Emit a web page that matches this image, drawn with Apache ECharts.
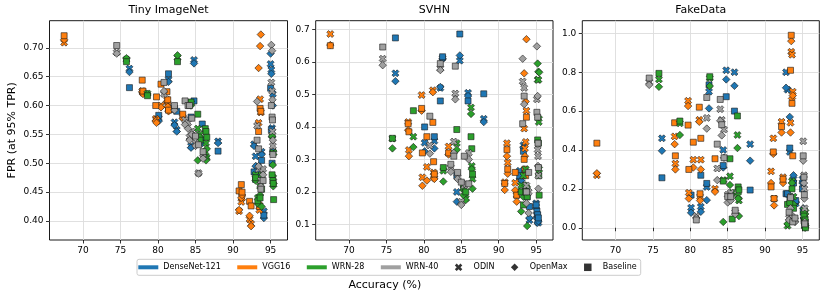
<!DOCTYPE html>
<html><head><meta charset="utf-8">
<script src="https://cdn.jsdelivr.net/npm/echarts@6/dist/echarts.min.js"></script>
<style>html,body{margin:0;padding:0;background:#fff}#c{width:830px;height:299px}</style>
</head><body><div id="c"></div>
<script>
// ---------- data ----------
const MODELS = ['DenseNet-121', 'VGG16', 'WRN-28', 'WRN-40'];
const METHODS = ['ODIN', 'OpenMax', 'Baseline'];
const PANEL_TITLES = ['Tiny ImageNet', 'SVHN', 'FakeData'];
const X_TICKS = [70, 75, 80, 85, 90, 95];
const Y_TICKS_TIN = [0.40, 0.45, 0.50, 0.55, 0.60, 0.65, 0.70];
const Y_TICKS_SVHN = [0.1, 0.2, 0.3, 0.4, 0.5, 0.6, 0.7];
const Y_TICKS_FAKE = [0.0, 0.2, 0.4, 0.6, 0.8, 1.0];

// accuracy (%) of each trained configuration, per model
const ACC_DN = [76.2, 80.1, 81.4, 82.2, 82.5, 84.4, 84.8, 85.9, 88.0, 92.8, 93.0, 93.3, 93.8, 94.1, 95.0, 95.1, 95.2, 95.3];
const ACC_VGG = [67.5, 77.9, 78.0, 79.7, 79.8, 80.4, 81.2, 81.3, 81.4, 83.3, 90.8, 91.1, 91.2, 92.2, 92.4, 93.4, 93.5, 93.6, 93.7];
const ACC_W28 = [75.8, 78.6, 82.6, 84.4, 85.3, 85.6, 86.3, 86.4, 86.5, 93.0, 93.3, 93.6, 93.8, 95.2, 95.3, 95.35, 95.4];
const ACC_W40 = [74.5, 80.8, 82.2, 83.6, 84.0, 84.2, 84.5, 85.0, 85.4, 86.0, 93.2, 93.4, 93.7, 94.0, 95.1, 95.2, 95.25, 95.3];

// FPR at 95% TPR — Tiny ImageNet
const TIN_DN_ODIN = [0.664,0.578,0.645,0.571,0.558,0.530,0.679,0.540,0.538,0.533,0.512,0.495,0.520,0.417,0.672,0.662,0.561,0.620];
const TIN_DN_OPENMAX = [0.658,0.573,0.641,0.566,0.555,0.527,0.673,0.535,0.535,0.530,0.495,0.486,0.515,0.405,0.690,0.655,0.546,0.600];
const TIN_DN_BASE = [0.631,0.583,0.655,0.593,0.590,0.580,0.608,0.568,0.521,0.485,0.472,0.478,0.505,0.410,0.630,0.558,0.500,0.520];
const TIN_VGG_ODIN = [0.709,0.625,0.622,0.577,0.575,0.600,0.610,0.600,0.595,0.580,0.417,0.433,0.440,0.403,0.395,0.570,0.419,0.611,0.588];
const TIN_VGG_OPENMAX = [0.714,0.624,0.620,0.573,0.570,0.597,0.607,0.598,0.590,0.578,0.419,0.440,0.445,0.409,0.391,0.665,0.430,0.703,0.723];
const TIN_VGG_BASE = [0.721,0.644,0.625,0.600,0.615,0.637,0.624,0.610,0.592,0.585,0.452,0.463,0.450,0.434,0.426,0.555,0.425,0.595,0.590];
const TIN_W28_ODIN = [0.680,0.621,0.683,0.604,0.560,0.550,0.520,0.535,0.510,0.480,0.440,0.460,0.480,0.548,0.518,0.475,0.518];
const TIN_W28_OPENMAX = [0.682,0.620,0.687,0.600,0.505,0.545,0.510,0.505,0.525,0.470,0.430,0.445,0.425,0.547,0.497,0.460,0.465];
const TIN_W28_BASE = [0.676,0.617,0.676,0.606,0.585,0.540,0.560,0.555,0.545,0.475,0.435,0.440,0.455,0.480,0.470,0.465,0.437];
const TIN_W40_ODIN = [0.692,0.620,0.596,0.575,0.570,0.545,0.555,0.535,0.483,0.510,0.565,0.490,0.470,0.490,0.640,0.625,0.555,0.530];
const TIN_W40_OPENMAX = [0.690,0.625,0.592,0.567,0.560,0.540,0.550,0.530,0.482,0.508,0.607,0.495,0.460,0.480,0.705,0.695,0.610,0.540];
const TIN_W40_BASE = [0.704,0.640,0.600,0.608,0.600,0.600,0.578,0.547,0.532,0.520,0.540,0.525,0.455,0.470,0.600,0.580,0.575,0.515];

// SVHN
const SVHN_DN_ODIN = [0.565,0.351,0.357,0.520,0.612,0.200,0.604,0.505,0.425,0.265,0.240,0.344,0.200,0.113,0.165,0.130,0.110,0.105];
const SVHN_DN_OPENMAX = [0.541,0.325,0.334,0.523,0.610,0.170,0.620,0.495,0.415,0.240,0.235,0.336,0.190,0.120,0.150,0.120,0.105,0.110];
const SVHN_DN_BASE = [0.674,0.400,0.370,0.480,0.616,0.250,0.686,0.480,0.502,0.250,0.200,0.325,0.185,0.155,0.160,0.140,0.130,0.120];
const SVHN_VGG_ODIN = [0.686,0.415,0.329,0.498,0.245,0.277,0.513,0.260,0.252,0.340,0.230,0.350,0.290,0.228,0.190,0.395,0.334,0.354,0.450];
const SVHN_VGG_OPENMAX = [0.652,0.390,0.310,0.450,0.219,0.235,0.507,0.242,0.240,0.315,0.206,0.310,0.256,0.205,0.170,0.565,0.310,0.478,0.670];
const SVHN_VGG_BASE = [0.650,0.410,0.385,0.457,0.320,0.370,0.414,0.293,0.255,0.320,0.226,0.330,0.270,0.260,0.190,0.300,0.270,0.250,0.430];
const SVHN_W28_ODIN = [0.364,0.370,0.265,0.350,0.210,0.180,0.460,0.280,0.240,0.220,0.250,0.270,0.210,0.545,0.545,0.415,0.270];
const SVHN_W28_OPENMAX = [0.334,0.338,0.232,0.330,0.190,0.175,0.440,0.270,0.210,0.140,0.185,0.220,0.095,0.595,0.570,0.430,0.568];
const SVHN_W28_BASE = [0.365,0.450,0.275,0.392,0.215,0.200,0.370,0.333,0.255,0.200,0.160,0.200,0.185,0.360,0.350,0.250,0.190];
const SVHN_W40_ODIN = [0.610,0.343,0.580,0.275,0.355,0.503,0.245,0.170,0.220,0.320,0.540,0.520,0.220,0.200,0.485,0.330,0.310,0.250];
const SVHN_W40_OPENMAX = [0.590,0.318,0.575,0.262,0.320,0.485,0.240,0.160,0.225,0.300,0.610,0.470,0.165,0.135,0.648,0.495,0.280,0.210];
const SVHN_W40_BASE = [0.646,0.433,0.595,0.285,0.310,0.587,0.260,0.230,0.310,0.225,0.410,0.495,0.200,0.260,0.445,0.430,0.350,0.275];

// FakeData
const FAKE_DN_ODIN = [0.460,0.103,0.108,0.210,0.700,0.400,0.810,0.800,0.430,0.800,0.710,0.390,0.250,0.125,0.250,0.220,0.060,0.030];
const FAKE_DN_OPENMAX = [0.396,0.077,0.082,0.142,0.614,0.310,0.763,0.730,0.345,0.720,0.168,0.570,0.270,0.130,0.230,0.100,0.050,0.020];
const FAKE_DN_BASE = [0.257,0.168,0.270,0.228,0.735,0.320,0.674,0.600,0.194,0.175,0.175,0.410,0.230,0.140,0.200,0.080,0.040,0.010];
const FAKE_VGG_ODIN = [0.270,0.470,0.330,0.653,0.180,0.350,0.555,0.160,0.350,0.200,0.290,0.460,0.150,0.545,0.260,0.540,0.905,0.890,0.700];
const FAKE_VGG_OPENMAX = [0.280,0.430,0.300,0.626,0.150,0.310,0.545,0.140,0.300,0.185,0.230,0.380,0.115,0.490,0.230,0.490,0.960,0.665,0.680];
const FAKE_VGG_BASE = [0.435,0.540,0.370,0.528,0.300,0.440,0.620,0.175,0.460,0.355,0.210,0.390,0.150,0.520,0.250,0.810,0.990,0.640,0.370];
const FAKE_W28_ODIN = [0.763,0.537,0.770,0.245,0.265,0.180,0.477,0.165,0.140,0.010,0.125,0.240,0.160,0.090,0.050,0.010,0.080];
const FAKE_W28_OPENMAX = [0.725,0.477,0.729,0.030,0.220,0.170,0.410,0.150,0.060,0.020,0.130,0.230,0.120,0.080,0.040,0.000,0.010];
const FAKE_W28_BASE = [0.794,0.549,0.777,0.240,0.355,0.045,0.575,0.210,0.195,0.120,0.130,0.200,0.100,0.060,0.030,0.040,0.000];
const FAKE_W40_ODIN = [0.750,0.060,0.565,0.305,0.610,0.555,0.505,0.170,0.180,0.080,0.050,0.160,0.035,0.040,0.445,0.270,0.200,0.100];
const FAKE_W40_OPENMAX = [0.735,0.050,0.510,0.245,0.550,0.475,0.360,0.130,0.140,0.070,0.040,0.100,0.060,0.030,0.345,0.230,0.150,0.030];
const FAKE_W40_BASE = [0.770,0.040,0.670,0.430,0.660,0.530,0.360,0.160,0.160,0.090,0.080,0.155,0.030,0.050,0.370,0.260,0.170,0.020];

// ---------- chart ----------
const COLORS = ['#1f77b4', '#ff7f0e', '#2ca02c', '#a0a0a0'];
const ACCS = [ACC_DN, ACC_VGG, ACC_W28, ACC_W40];
const PANEL_DATA = [
  [[TIN_DN_ODIN, TIN_DN_OPENMAX, TIN_DN_BASE], [TIN_VGG_ODIN, TIN_VGG_OPENMAX, TIN_VGG_BASE],
   [TIN_W28_ODIN, TIN_W28_OPENMAX, TIN_W28_BASE], [TIN_W40_ODIN, TIN_W40_OPENMAX, TIN_W40_BASE]],
  [[SVHN_DN_ODIN, SVHN_DN_OPENMAX, SVHN_DN_BASE], [SVHN_VGG_ODIN, SVHN_VGG_OPENMAX, SVHN_VGG_BASE],
   [SVHN_W28_ODIN, SVHN_W28_OPENMAX, SVHN_W28_BASE], [SVHN_W40_ODIN, SVHN_W40_OPENMAX, SVHN_W40_BASE]],
  [[FAKE_DN_ODIN, FAKE_DN_OPENMAX, FAKE_DN_BASE], [FAKE_VGG_ODIN, FAKE_VGG_OPENMAX, FAKE_VGG_BASE],
   [FAKE_W28_ODIN, FAKE_W28_OPENMAX, FAKE_W28_BASE], [FAKE_W40_ODIN, FAKE_W40_OPENMAX, FAKE_W40_BASE]]
];
const Y_TICKS = [Y_TICKS_TIN, Y_TICKS_SVHN, Y_TICKS_FAKE];
const Y_RANGE = [[0.367, 0.747], [0.052, 0.727], [-0.063, 1.065]];
const Y_DEC = [2, 1, 1];
const GRIDS = [
  { left: 49.5, top: 20.7, width: 238, height: 219.3 },
  { left: 315.7, top: 20.7, width: 237.3, height: 219.3 },
  { left: 582.3, top: 20.7, width: 237, height: 219.3 }
];
const X_PATH = 'path://M1,0L2,1L3,0L4,1L3,2L4,3L3,4L2,3L1,4L0,3L1,2L0,1Z';
const SYMBOLS = [X_PATH, 'diamond', 'rect'];
const SYMBOL_SIZES = [7, 7.5, 6];
const FONT = 'DejaVu Sans';

const chart = echarts.init(document.getElementById('c'), null, { renderer: 'canvas' });

const grid = GRIDS.map(g => Object.assign({ show: true, borderColor: '#000', borderWidth: 0.9, backgroundColor: '#fff', containLabel: false }, g));
const xAxis = GRIDS.map((g, i) => ({
  type: 'value', gridIndex: i, min: 65.55, max: 97.25,
  axisLine: { show: false },
  axisTick: { show: true, customValues: X_TICKS, length: 3.5, lineStyle: { color: '#000', width: 0.8 } },
  axisLabel: { customValues: X_TICKS, fontSize: 9, color: '#000', margin: 6, fontFamily: FONT },
  splitLine: { show: true, lineStyle: { color: '#dcdcdc', width: 0.9 } }
}));
const yAxis = GRIDS.map((g, i) => ({
  type: 'value', gridIndex: i, min: Y_RANGE[i][0], max: Y_RANGE[i][1],
  axisLine: { show: false },
  axisTick: { show: true, customValues: Y_TICKS[i], length: 3.5, lineStyle: { color: '#000', width: 0.8 } },
  axisLabel: { customValues: Y_TICKS[i], fontSize: 9, color: '#000', margin: 6, fontFamily: FONT,
    formatter: v => Number(v).toFixed(Y_DEC[i]) },
  splitLine: { show: true, lineStyle: { color: '#dcdcdc', width: 0.9 } }
}));

const series = [];
PANEL_DATA.forEach((panel, p) => {
  panel.forEach((modelArrs, m) => {
    modelArrs.forEach((fprs, k) => {
      series.push({
        type: 'scatter', name: MODELS[m], xAxisIndex: p, yAxisIndex: p,
        symbol: SYMBOLS[k], symbolSize: SYMBOL_SIZES[k],
        itemStyle: { color: COLORS[m], borderColor: '#1a1a1a', borderWidth: 0.6, opacity: 1 },
        data: ACCS[m].map((a, i) => [a, fprs[i]]),
        silent: true, animation: false
      });
    });
  });
});
METHODS.forEach((name, k) => {
  series.push({ type: 'scatter', name, xAxisIndex: 0, yAxisIndex: 0, symbol: SYMBOLS[k], data: [], itemStyle: { color: '#000' } });
});

const LINE_ICON = 'path://M0,0H50V10H0Z';
const LEGEND_ICONS = ['path://M1,0L2,1L3,0L4,1L3,2L4,3L3,4L2,3L1,4L0,3L1,2L0,1Z', 'path://M1,0L2,1L1,2L0,1Z', 'path://M0,0H1V1H0Z'];

const title = PANEL_TITLES.map((t, i) => ({
  text: t, left: GRIDS[i].left + GRIDS[i].width / 2, top: 4.5, textAlign: 'center', padding: 0,
  textStyle: { fontSize: 11, fontWeight: 'normal', color: '#000', fontFamily: FONT }
}));

chart.setOption({
  animation: false,
  backgroundColor: '#fff',
  title,
  grid, xAxis, yAxis, series,
  legend: {
    left: 137, top: 259.3, orient: 'horizontal', itemWidth: 20, itemHeight: 7.5, itemGap: 16.5,
    padding: [4, 4, 4, 1.3], borderColor: '#cccccc', borderWidth: 1, borderRadius: 2, backgroundColor: '#fff',
    selectedMode: false,
    textStyle: { fontSize: 8, color: '#000', fontFamily: FONT },
    data: MODELS.map((n, m) => ({ name: n, icon: LINE_ICON, itemStyle: { color: COLORS[m], borderWidth: 0 } }))
      .concat(METHODS.map((n, k) => ({ name: n, icon: LEGEND_ICONS[k], itemStyle: { color: '#000', borderWidth: 0 } })))
  },
  graphic: [
    { type: 'text', x: 12, y: 130.3, rotation: Math.PI / 2,
      style: { text: 'FPR (at 95% TPR)', textAlign: 'center', textVerticalAlign: 'middle', font: '11px "DejaVu Sans"', fill: '#000' } },
    { type: 'text', x: 384.8, y: 285, 
      style: { text: 'Accuracy (%)', textAlign: 'center', textVerticalAlign: 'middle', font: '11px "DejaVu Sans"', fill: '#000' } }
  ]
});
</script>
</body></html>
